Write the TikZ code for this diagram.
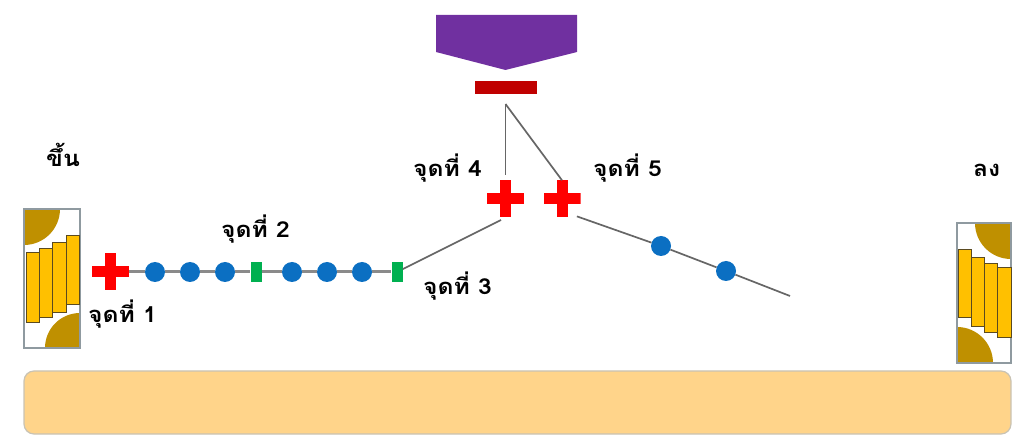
\documentclass[tikz,border=0pt]{standalone}
\usepackage{fontspec}
\newfontfamily\thaifont[Script=Thai,FakeStretch=1.12]{Loma}
\definecolor{gold}{HTML}{FFC000}
\definecolor{brownfill}{HTML}{BF9000}
\definecolor{framegrey}{HTML}{8F9AA0}
\definecolor{barline}{HTML}{5A4A20}
\definecolor{purplebox}{HTML}{7030A0}
\definecolor{darkred}{HTML}{C00000}
\definecolor{dotblue}{HTML}{0B6FC2}
\definecolor{markgreen}{HTML}{00B050}
\definecolor{groundfill}{HTML}{FFD48A}
\definecolor{groundline}{HTML}{C9C3B4}
\definecolor{wire}{HTML}{8A8A8A}
\definecolor{wiredark}{HTML}{666666}
\tikzset{
  label text/.style={font=\thaifont\bfseries\fontsize{22}{25}\selectfont,anchor=base west,inner sep=0pt,text=black},
  blue dot/.style={circle,fill=dotblue,minimum size=20pt,inner sep=0pt},
  green mark/.style={rectangle,fill=markgreen,minimum width=11pt,minimum height=20pt,inner sep=0pt},
  red plus/.style={rectangle,minimum size=37pt,inner sep=0pt,path picture={
    \fill[red] (path picture bounding box.center) ++(-18.5pt,-5.5pt) rectangle ++(37pt,11pt);
    \fill[red] (path picture bounding box.center) ++(-5.5pt,-18.5pt) rectangle ++(11pt,37pt);}},
  main wire/.style={draw=wire,line width=3pt},
  thin wire/.style={draw=wiredark,line width=1.7pt},
  frame box/.style={draw=framegrey,line width=1.3pt},
  sector/.style={fill=brownfill},
  stair bar/.style={fill=gold,draw=barline,line width=1pt},
}
\begin{document}
\begin{tikzpicture}[x=1pt,y=-1pt]
\useasboundingbox (0,0) rectangle (1020,435);
% ground
\draw[fill=groundfill,draw=groundline,line width=1.2pt,rounded corners=10pt] (24,371) rectangle (1011,434);
% left stairs
\fill[sector] (24,209) -- (60,209) arc[start angle=0,end angle=-90,radius=36pt] -- cycle;
\fill[sector] (80,348) -- (45,348) arc[start angle=180,end angle=90,radius=35pt] -- cycle;
\draw[frame box] (24,209) rectangle (80,348);
\draw[stair bar] (26,253) rectangle (39,323);
\draw[stair bar] (39,249) rectangle (52,318);
\draw[stair bar] (52,243) rectangle (66,313);
\draw[stair bar] (66,236) rectangle (79,305);
% right stairs
\fill[sector] (1011,223) -- (975,223) arc[start angle=180,end angle=270,radius=36pt] -- cycle;
\fill[sector] (957,363) -- (993,363) arc[start angle=0,end angle=90,radius=36pt] -- cycle;
\draw[frame box] (957,223) rectangle (1011,363);
\draw[stair bar] (958,250) rectangle (971,318);
\draw[stair bar] (971,258) rectangle (984,327);
\draw[stair bar] (984,264) rectangle (997,333);
\draw[stair bar] (997,268) rectangle (1011,338);
% top
\fill[purplebox] (436,15) -- (577,15) -- (577,52) -- (505.5,70) -- (436,52) -- cycle;
\node[rectangle,fill=darkred,minimum width=62pt,minimum height=13pt,inner sep=0pt] (bar) at (506,87.5) {};
% nodes
\coordinate (apex) at (505.5,104);
\coordinate (tail) at (790,296);
\node[red plus] (p1) at (110.5,272) {};
\node[red plus] (p4) at (505.5,199) {};
\node[red plus] (p5) at (562,199) {};
\node[blue dot] (d1) at (155,272) {};
\node[blue dot] (d2) at (190,272) {};
\node[blue dot] (d3) at (225,272) {};
\node[green mark] (g1) at (256,272) {};
\node[blue dot] (d4) at (292,272) {};
\node[blue dot] (d5) at (327,272) {};
\node[blue dot] (d6) at (362,272) {};
\node[green mark] (g2) at (397,272) {};
\node[blue dot] (d7) at (661,246) {};
\node[blue dot] (d8) at (726,271) {};
% connectors
\draw[main wire] (p1.east) -- (d1);
\draw[main wire] (d1) -- (d2);
\draw[main wire] (d2) -- (d3);
\draw[main wire] (d3) -- (g1);
\draw[main wire] (g1) -- (d4);
\draw[main wire] (d4) -- (d5);
\draw[main wire] (d5) -- (d6);
\draw[main wire] (d6) -- (g2);
\draw[thin wire,shorten >=5pt] (g2) -- (p4.south);
\draw[thin wire,shorten >=5pt] (apex) -- (p4.north);
\draw[thin wire] (apex) -- (p5.north);
\draw[thin wire,shorten <=-4pt] (p5.south east) -- (d7);
\draw[thin wire] (d7) -- (d8);
\draw[thin wire] (d8) -- (tail);
% labels
\node[label text] (t0) at (46,167) {ขึ้น};
\node[label text] (t9) at (973,177) {ลง};
\node[label text] (t1) at (88,323) {จุดที่ 1};
\node[label text] (t2) at (221,238) {จุดที่ 2};
\node[label text] (t3) at (423,295) {จุดที่ 3};
\node[label text] (t4) at (413,177) {จุดที่ 4};
\node[label text] (t5) at (593,177) {จุดที่ 5};
\end{tikzpicture}
\end{document}
